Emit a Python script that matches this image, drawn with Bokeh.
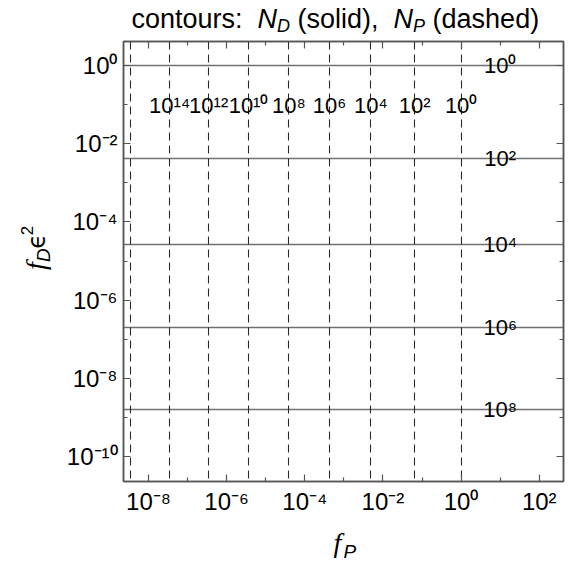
import math
from bokeh.plotting import figure
from bokeh.layouts import column, row
from bokeh.models import FixedTicker, CustomJSTickFormatter, LogAxis, Range1d
from bokeh.embed import file_html
from bokeh.resources import INLINE
from bokeh.core.properties import value

# ---------------- data (log10 values) ----------------
x_range_log = [-8.64, 2.62]          # f_P axis extent (decades)
y_range_log = [-10.63, 0.61]         # f_D eps^2 axis extent (decades)
x_major_exp = [-8, -6, -4, -2, 0, 2]
x_minor_exp = [-9, -7, -5, -3, -1, 1]
y_major_exp = [-10, -8, -6, -4, -2, 0]
y_minor_exp = [-11, -9, -7, -5, -3, -1]

# N_D contours (solid, horizontal): level exponent and log10(f_D eps^2)
ND_level_exp = [0, 2, 4, 6, 8]
ND_log_fDeps2 = [0.0, -2.37, -4.57, -6.70, -8.78]

# N_P contours (dashed, vertical): level exponent and log10(f_P)
NP_level_exp = [0, 2, 4, 6, 8, 10, 12, 14, 16]
NP_log_fP = [0.0, -1.19, -2.31, -3.37, -4.41, -5.44, -6.46, -7.46, -8.47]
NP_labelled = [True, True, True, True, True, True, True, True, False]

# label anchor positions (decades)
ND_label_log_fP = 1.0
NP_label_log_fDeps2 = -1.03

TITLE_PARTS = [("contours:  ", "normal", False), ("N", "italic", False), ("D", "italic", True),
               (" (solid),  ", "normal", False), ("N", "italic", False), ("P", "italic", True),
               (" (dashed)", "normal", False)]

# ---------------- layout ----------------
W, H = 582, 563
FRAME_TOP, FRAME_LEFT, FRAME_SIZE = 41, 123, 440
TITLE_H = 37
YLAB_W = 54
XLAB_H = 44
MAIN_W = W - YLAB_W
MAIN_H = H - TITLE_H - XLAB_H
FRAME = "#555555"
SUP = {"0": "⁰", "1": "¹", "2": "²", "3": "³", "4": "⁴", "5": "⁵",
       "6": "⁶", "7": "⁷", "8": "⁸", "9": "⁹", "-": "⁻"}


def sup_label(e):
    return "10" + "".join(SUP[c] for c in str(e))


def text_fig(w, h):
    f = figure(width=w, height=h, x_range=Range1d(0, w), y_range=Range1d(0, h),
               output_backend="svg", toolbar_location=None, min_border=0, title=None,
               x_axis_location=None, y_axis_location=None)
    f.xgrid.visible = False
    f.ygrid.visible = False
    f.outline_line_color = None
    f.background_fill_color = "white"
    f.border_fill_color = "white"
    return f


def put(f, px, py, txt, size, font="Liberation Sans", style="normal", angle=0.0, align="left"):
    """px, py: anchor in the figure's own pixels (py from its top); py is the text's middle."""
    h = f.height
    f.text(x=[px], y=[h - py], text=[txt], text_font=value(font),
           text_font_size=f"{size}px", text_font_style=style, text_color="black",
           text_align=align, text_baseline="middle", angle=angle)


# ---------------- main plot ----------------
p = figure(width=MAIN_W, height=MAIN_H, x_axis_type="log", y_axis_type="log",
           x_range=Range1d(10 ** x_range_log[0], 10 ** x_range_log[1]),
           y_range=Range1d(10 ** y_range_log[0], 10 ** y_range_log[1]),
           output_backend="svg", toolbar_location=None, title=None,
           min_border_left=FRAME_LEFT - YLAB_W,
           min_border_right=MAIN_W - (FRAME_LEFT - YLAB_W) - FRAME_SIZE,
           min_border_top=FRAME_TOP - TITLE_H,
           min_border_bottom=MAIN_H - FRAME_SIZE - (FRAME_TOP - TITLE_H))
p.xgrid.visible = False
p.ygrid.visible = False
p.outline_line_color = FRAME
p.outline_line_width = 1.5
p.background_fill_color = "white"
p.border_fill_color = "white"

fmt_js = """
const e = Math.round(Math.log10(tick));
const m = {"0":"⁰","1":"¹","2":"²","3":"³","4":"⁴","5":"⁵","6":"⁶","7":"⁷","8":"⁸","9":"⁹","-":"⁻"};
return "10" + String(e).split("").map(c => m[c]).join("");
"""

bottom_ax = p.below[0]
left_ax = p.left[0]
bottom_ax.ticker = FixedTicker(ticks=[10.0 ** e for e in x_major_exp], minor_ticks=[10.0 ** e for e in x_minor_exp])
left_ax.ticker = FixedTicker(ticks=[10.0 ** e for e in y_major_exp], minor_ticks=[10.0 ** e for e in y_minor_exp])
bottom_ax.formatter = CustomJSTickFormatter(code=fmt_js)
left_ax.formatter = CustomJSTickFormatter(code=fmt_js)

top_ax = LogAxis(ticker=FixedTicker(ticks=[10.0 ** e for e in x_major_exp], minor_ticks=[10.0 ** e for e in x_minor_exp]),
                 formatter=CustomJSTickFormatter(code="return ''"))
right_ax = LogAxis(ticker=FixedTicker(ticks=[10.0 ** e for e in y_major_exp], minor_ticks=[10.0 ** e for e in y_minor_exp]),
                   formatter=CustomJSTickFormatter(code="return ''"))
p.add_layout(top_ax, "above")
p.add_layout(right_ax, "right")

for ax in [bottom_ax, left_ax, top_ax, right_ax]:
    ax.axis_line_color = FRAME
    ax.axis_line_width = 1.5
    ax.major_tick_in = 7
    ax.major_tick_out = 0
    ax.minor_tick_in = 4
    ax.minor_tick_out = 0
    ax.major_tick_line_color = FRAME
    ax.minor_tick_line_color = FRAME
    ax.major_tick_line_width = 1.2
    ax.minor_tick_line_width = 1.2
    ax.major_label_text_font = "Liberation Sans"
    ax.major_label_text_font_size = "24px"
    ax.major_label_text_color = "black"
    ax.major_label_standoff = 6
for ax in [top_ax, right_ax]:
    ax.major_label_text_font_size = "1px"
    ax.major_label_standoff = 0

# contour lines
p.hspan(y=[10 ** v for v in ND_log_fDeps2], line_color="#707070", line_width=1.5)
p.vspan(x=[10 ** v for v in NP_log_fP], line_color="#2a2a2a", line_width=1.1, line_dash="8 5")

# contour labels
np_lab_x = [10 ** v for v, ok in zip(NP_log_fP, NP_labelled) if ok]
np_lab_t = [sup_label(e) for e, ok in zip(NP_level_exp, NP_labelled) if ok]
p.text(x=np_lab_x, y=[10 ** NP_label_log_fDeps2] * len(np_lab_x), text=np_lab_t,
       text_font=value("Liberation Sans"), text_font_size="22px", text_color="black",
       text_align="center", text_baseline="middle")
p.text(x=[10 ** ND_label_log_fP] * len(ND_level_exp), y=[10 ** v for v in ND_log_fDeps2],
       text=[sup_label(e) for e in ND_level_exp],
       text_font=value("Liberation Sans"), text_font_size="22px", text_color="black",
       text_align="center", text_baseline="middle")

# ---------------- title (pieces so that subscripts are real text) ----------------
ARIAL = {"c": 500, "o": 556, "n": 556, "t": 278, "u": 556, "r": 333, "s": 500, ":": 278,
         " ": 278, "(": 333, ")": 333, "l": 222, "i": 222, "d": 556, "a": 556, "h": 556,
         "e": 556, ",": 278, "N": 722, "D": 722, "P": 667}


def tw(s, size):
    return sum(ARIAL[c] for c in s) * size / 1000.0


TS, TSUB = 27, 18
tfig = text_fig(W, TITLE_H)
cx = 131
for txt, style, is_sub in TITLE_PARTS:
    size = TSUB if is_sub else TS
    core = txt.strip(" ")
    lead = len(txt) - len(txt.lstrip(" "))
    trail = len(txt) - len(txt.rstrip(" "))
    cx += tw(" " * lead, size)
    put(tfig, cx, 25 if is_sub else 18, core, size, style=style)
    cx += tw(core, size) + tw(" " * trail, size)

# ---------------- y label: f_D eps^2 (rotated, pieces centred) ----------------
yfig = text_fig(YLAB_W, MAIN_H)
A = math.pi / 2
off = TITLE_H
put(yfig, 35, 283 - off, "f", 28, font="Liberation Serif", style="italic", angle=A, align="center")
put(yfig, 43, 271 - off, "D", 19, style="italic", angle=A, align="center")
put(yfig, 36, 256 - off, "ϵ", 24, font="DejaVu Sans", angle=A, align="center")
put(yfig, 26, 244 - off, "2", 17, angle=A, align="center")

# ---------------- x label: f_P ----------------
xfig = text_fig(W, XLAB_H)
off = TITLE_H + MAIN_H
put(xfig, 333, 542 - off, "f", 28, font="Liberation Serif", style="italic")
put(xfig, 343, 551 - off, "P", 19, style="italic")

layout = column(tfig, row(yfig, p), xfig)
open("out.html", "w", encoding="utf-8").write(file_html(layout, INLINE))
